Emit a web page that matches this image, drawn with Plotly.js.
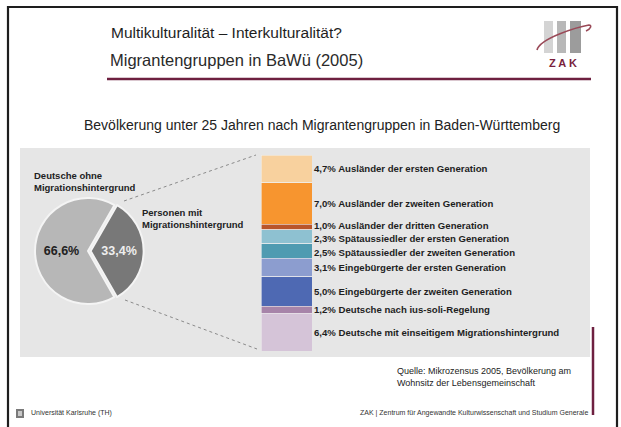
<!DOCTYPE html>
<html>
<head>
<meta charset="utf-8">
<script src="https://cdn.plot.ly/plotly-3.0.1.min.js"></script>
<style>
  body { margin: 0; background: #fff; }
  #plot { width: 621px; height: 427px; }
</style>
</head>
<body>
<div id="plot"></div>
<script>
// pie: share of people with / without migration background
var pieLabels = ["Personen mit Migrationshintergrund", "Deutsche ohne Migrationshintergrund"];
var pieValues = [33.4, 66.6];
var pieText = ["33,4%", "66,6%"];

// stacked column: breakdown of the 33,4%
var groups = [
  "Ausländer der ersten Generation",
  "Ausländer der zweiten Generation",
  "Ausländer der dritten Generation",
  "Spätaussiedler der ersten Generation",
  "Spätaussiedler der zweiten Generation",
  "Eingebürgerte der ersten Generation",
  "Eingebürgerte der zweiten Generation",
  "Deutsche nach ius-soli-Regelung",
  "Deutsche mit einseitigem Migrationshintergrund"
];
var groupValues = [4.7, 7.0, 1.0, 2.3, 2.5, 3.1, 5.0, 1.2, 6.4];
var groupColors = ["#f8d19e", "#f7952f", "#b9552b", "#8ec1d1", "#4f9bb1",
                   "#8c9dcf", "#4e69b3", "#a784a9", "#d5c4d8"];
// small nudges so the tight labels do not collide (px, + is up)
var labelNudge = [0, 0, 2, -2, -2, 0, 0, 0, 0];

var W = 621, H = 427;
function px(x) { return x / W; }
function py(y) { return 1 - y / H; }

var total = groupValues.reduce(function (a, b) { return a + b; }, 0);

var traces = [];
groupValues.forEach(function (v, i) {
  traces.push({
    type: "bar",
    x: [0],
    y: [v],
    width: 1,
    name: groups[i],
    marker: { color: groupColors[i], line: { color: "#eeeeee", width: 0.6 } },
    hoverinfo: "skip"
  });
});

// pie centre ~ (88, 251), r ~ 53 px
var pull = 0.05, r = 53, cx = 88, cy = 251;
var half = r * (1 + pull);
traces.push({
  type: "pie",
  values: pieValues,
  labels: pieLabels,
  text: pieText,
  textinfo: "text",
  textposition: "inside",
  insidetextorientation: "horizontal",
  insidetextfont: { color: ["#eeeeee", "#222222"], size: 12.5, family: "Liberation Sans, Arial, sans-serif", weight: "bold" },
  marker: { colors: ["#787878", "#b7b7b7"], line: { color: "#f4f4f4", width: 2 } },
  pull: [pull, 0],
  sort: false,
  direction: "clockwise",
  rotation: 30,
  domain: { x: [px(cx - half), px(cx + half)], y: [py(cy + half), py(cy - half)] },
  showlegend: false,
  hoverinfo: "skip"
});

var annotations = [];
var cum = 0;
groupValues.forEach(function (v, i) {
  annotations.push({
    xref: "x", yref: "y", x: 0.5, y: cum + v / 2, xanchor: "left", yanchor: "middle",
    xshift: 1, yshift: labelNudge[i], showarrow: false, borderpad: 0,
    text: v.toFixed(1).replace(".", ",") + "% " + groups[i],
    font: { size: 9.6, color: "#1e1e1e", family: "Liberation Sans, Arial, sans-serif", weight: "bold" }
  });
  cum += v;
});

function note(x, y, text, size, color, anchor, extra) {
  var a = {
    xref: "paper", yref: "paper", x: px(x), y: py(y), xanchor: anchor || "left", yanchor: "middle",
    showarrow: false, text: text, align: anchor === "right" ? "right" : "left",
    font: { size: size, color: color, family: "Liberation Sans, Arial, sans-serif" }
  };
  for (var k in extra) a[k] = extra[k];
  return a;
}

annotations.push(
  note(109, 33, "Multikulturalität – Interkulturalität?", 15.5, "#1e1e1e", "left",
       { font: { size: 15.5, color: "#1e1e1e", family: "Liberation Sans Narrow, Arial Narrow, sans-serif" } }),
  note(108, 60, "Migrantengruppen in BaWü (2005)", 16.5, "#2a2a2a"),
  note(322, 125, "Bevölkerung unter 25 Jahren nach Migrantengruppen in Baden-Württemberg", 14, "#222222", "center"),
  note(32, 181, "<b>Deutsche ohne<br>Migrationshintergrund</b>", 9.5, "#222222"),
  note(140, 218, "<b>Personen mit<br>Migrationshintergrund</b>", 9.5, "#222222"),
  note(395, 377, "Quelle: Mikrozensus 2005, Bevölkerung am<br>Wohnsitz der Lebensgemeinschaft", 9, "#222222"),
  note(29, 413, "Universität Karlsruhe (TH)", 7, "#333333"),
  note(590, 413, "ZAK | Zentrum für Angewandte Kulturwissenschaft und Studium Generale", 7, "#333333", "right"),
  note(563, 63, "<b>Z A K</b>", 11, "#7a1f3c", "center")
);

function rect(x0, y0, x1, y1, fill, line, layer) {
  return {
    type: "rect", xref: "paper", yref: "paper", x0: px(x0), x1: px(x1), y0: py(y1), y1: py(y0),
    fillcolor: fill, line: line || { width: 0 }, layer: layer || "below"
  };
}
function seg(x0, y0, x1, y1, color, width, dash) {
  return {
    type: "line", xref: "paper", yref: "paper", x0: px(x0), y0: py(y0), x1: px(x1), y1: py(y1),
    line: { color: color, width: width, dash: dash || "solid" }, layer: "above"
  };
}

var shapes = [
  // slide frame (bottom edge outside the picture)
  { type: "path", xref: "paper", yref: "paper",
    path: "M " + px(8) + " " + py(440) + " L " + px(8) + " " + py(7) + " L " + px(617) + " " + py(7) + " L " + px(617) + " " + py(440),
    line: { color: "#1e1e1e", width: 2.2 }, layer: "above" },
  // title rule
  seg(107, 79, 591, 79, "#6e2040", 2.5),
  // grey panel
  rect(20, 148, 590, 357, "#e6e6e6"),
  // dotted connectors
  seg(124, 201, 256, 155, "#8a8a8a", 1, "dot"),
  seg(125, 300, 257, 349, "#8a8a8a", 1, "dot"),
  // right maroon bar
  seg(593, 327, 593, 415, "#6e2040", 2.5),
  // logo bars
  rect(544, 21, 553, 53, "#d4d4d4", null, "above"),
  rect(557, 21, 566, 53, "#b8b8b8", null, "above"),
  rect(570, 21, 581, 53, "#9c9c9c", null, "above"),
  { type: "path", xref: "paper", yref: "paper", layer: "above",
    path: "M " + px(537) + " " + py(50) + " C " + px(540) + " " + py(38) + ", " + px(578) + " " + py(27) + ", " +
          px(589) + " " + py(25) + " C " + px(592) + " " + py(25) + ", " + px(591) + " " + py(29) + ", " + px(586) + " " + py(31),
    line: { color: "#9a4a58", width: 1.6 } },
  // footer icon
  rect(16, 409, 24, 418, "#7a7a7a", null, "above"),
  rect(18, 411, 22, 416, "#c8c8c8", null, "above")
];

var layout = {
  width: W, height: H,
  margin: { l: 0, r: 0, t: 0, b: 0 },
  paper_bgcolor: "#ffffff", plot_bgcolor: "rgba(0,0,0,0)",
  barmode: "stack", bargap: 0,
  showlegend: false,
  xaxis: { domain: [px(261), px(312)], range: [-0.5, 0.5], visible: false, fixedrange: true },
  yaxis: { domain: [py(351), py(155)], range: [total, 0], visible: false, fixedrange: true },
  annotations: annotations,
  shapes: shapes
};

Plotly.newPlot("plot", traces, layout, { displayModeBar: false, staticPlot: true });
</script>
</body>
</html>
